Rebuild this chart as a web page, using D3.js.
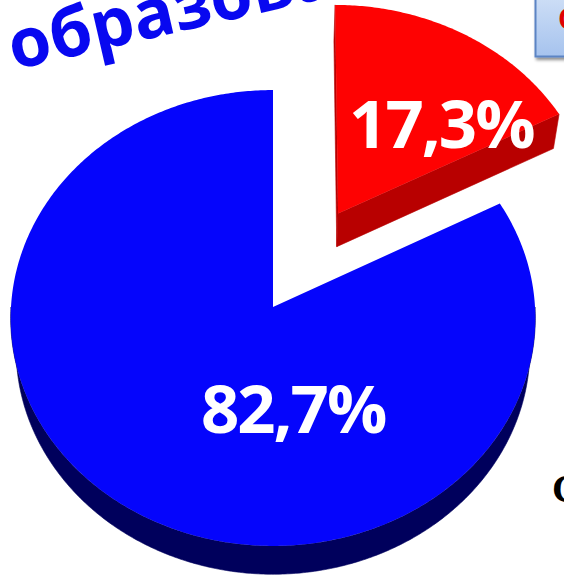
<!DOCTYPE html>
<html>
<head>
<meta charset="utf-8">
<script src="https://cdn.jsdelivr.net/npm/d3@7"></script>
<style>
  html, body { margin: 0; padding: 0; background: #fff; overflow: hidden; }
  svg { display: block; }
</style>
</head>
<body>
<svg id="chart" width="564" height="575"></svg>
<script>
// pie order: from 12 o'clock, clockwise
const shares = [17.3, 82.7]
const shareLabels = ['17,3%', '82,7%']
const explode = [0.49, 0] // pulled out, in radii
const titleText = 'образование'
const boxText = 'С'
const cornerText = 'С'

// look of the slices (kept apart from the data)
const topColors = ['#fe0202', '#0505fc']
const sideColors = ['#b80000', '#00005c']
const labelSpots = [[44.7, 0.59], [170.3, 0.445]] // [deg, radius] inside each slice

const width = 564
const height = 575
const center = {x: 273, y: 307}
const thick = 0.25 // slab thickness, in radii

// simple perspective camera looking down on the pie
const cam = {D: 10.3, s: 0.868, c: 0.497}
cam.f = 262 * cam.D

function project (X, Z, H) {
  const depth = cam.D + Z * cam.c + H * cam.s
  return [cam.f * X / depth, -cam.f * (Z * cam.s - H * cam.c) / depth]
}

const svg = d3.select('#chart')
const line = d3.line()

const defs = svg.append('defs')
const boxGrad = defs.append('linearGradient')
  .attr('id', 'boxGrad')
  .attr('x1', 0).attr('y1', 0).attr('x2', 0).attr('y2', 1)
boxGrad.append('stop').attr('offset', '0%').attr('stop-color', '#d3e2f7')
boxGrad.append('stop').attr('offset', '100%').attr('stop-color', '#a6c3ee')

const shadow = defs.append('filter').attr('id', 'shadow')
  .attr('x', '-20%').attr('y', '-20%').attr('width', '150%').attr('height', '150%')
shadow.append('feDropShadow')
  .attr('dx', 1.5).attr('dy', 2.5).attr('stdDeviation', 1.5)
  .attr('flood-color', '#000').attr('flood-opacity', 0.45)

const pie = d3.pie().sort(null).value(d => d)
const arcs = pie(shares)

const g = svg.append('g')
  .attr('transform', `translate(${center.x}, ${center.y})`)

function arcPoints (a0, a1, off, H) {
  const n = Math.max(2, Math.ceil((a1 - a0) / 0.01))
  const pts = []
  for (let i = 0; i <= n; i++) {
    const a = a0 + (a1 - a0) * i / n
    pts.push(project(off[0] + Math.sin(a), off[1] + Math.cos(a), H))
  }
  return pts
}

function radialFace (a, off) {
  return [
    project(off[0], off[1], 0),
    project(off[0] + Math.sin(a), off[1] + Math.cos(a), 0),
    project(off[0] + Math.sin(a), off[1] + Math.cos(a), thick),
    project(off[0], off[1], thick)
  ]
}

// draw far slices first
const order = arcs.map((d, i) => i)
  .map(i => {
    const mid = (arcs[i].startAngle + arcs[i].endAngle) / 2
    return {i, z: explode[i] * Math.cos(mid)}
  })
  .sort((a, b) => b.z - a.z)
  .map(d => d.i)

const camZ = -cam.D * cam.c

for (const i of order) {
  const d = arcs[i]
  const mid = (d.startAngle + d.endAngle) / 2
  const off = [explode[i] * Math.sin(mid), explode[i] * Math.cos(mid)]
  const slice = g.append('g').attr('class', 'slice')

  // outer wall, front half only
  const w0 = Math.max(d.startAngle, Math.PI / 2)
  const w1 = Math.min(d.endAngle, Math.PI * 1.5)
  if (w1 > w0) {
    const pts = arcPoints(w0, w1, off, 0).concat(arcPoints(w0, w1, off, thick).reverse())
    slice.append('path')
      .attr('d', line(pts) + 'Z')
      .attr('fill', sideColors[i])
      .attr('stroke', sideColors[i])
      .attr('stroke-width', 0.6)
  }

  // cut faces that turn towards the camera
  const toCam = [-off[0], camZ - off[1]]
  const faces = [
    {a: d.startAngle, n: [-Math.cos(d.startAngle), Math.sin(d.startAngle)]},
    {a: d.endAngle, n: [Math.cos(d.endAngle), -Math.sin(d.endAngle)]}
  ]
  for (const face of faces) {
    if (face.n[0] * toCam[0] + face.n[1] * toCam[1] > 1e-6) {
      slice.append('path')
        .attr('d', line(radialFace(face.a, off)) + 'Z')
        .attr('fill', sideColors[i])
        .attr('stroke', sideColors[i])
        .attr('stroke-width', 0.6)
    }
  }

  // top face
  const top = [project(off[0], off[1], 0)].concat(arcPoints(d.startAngle, d.endAngle, off, 0))
  slice.append('path')
    .attr('d', line(top) + 'Z')
    .attr('fill', topColors[i])
}

// value labels
arcs.forEach((d, i) => {
  const mid = (d.startAngle + d.endAngle) / 2
  const off = [explode[i] * Math.sin(mid), explode[i] * Math.cos(mid)]
  const a = labelSpots[i][0] * Math.PI / 180
  const r = labelSpots[i][1]
  const p = project(off[0] + r * Math.sin(a), off[1] + r * Math.cos(a), 0)
  g.append('text')
    .attr('x', p[0])
    .attr('y', p[1])
    .attr('dy', '0.357em')
    .attr('text-anchor', 'middle')
    .attr('font-family', '"Open Sans", sans-serif')
    .attr('font-weight', 700)
    .attr('font-size', 67)
    .attr('letter-spacing', -2)
    .attr('fill', '#fff')
    .text(shareLabels[i])
})

// title word, tilted, running off the top
svg.append('text')
  .attr('transform', 'translate(14, 70) rotate(-13)')
  .attr('font-family', '"Open Sans", sans-serif')
  .attr('font-weight', 700)
  .attr('font-size', 68)
  .attr('fill', '#0808f0')
  .text(titleText)

// legend box cut by the right edge
svg.append('rect')
  .attr('x', 535.5)
  .attr('y', -12)
  .attr('width', 80)
  .attr('height', 68.5)
  .attr('fill', 'url(#boxGrad)')
  .attr('stroke', '#5b84c4')
  .attr('stroke-width', 2)
  .attr('filter', 'url(#shadow)')

svg.append('text')
  .attr('x', 558)
  .attr('y', 29)
  .attr('font-family', '"Open Sans", sans-serif')
  .attr('font-weight', 700)
  .attr('font-size', 28)
  .attr('fill', '#e00000')
  .text(boxText)

svg.append('text')
  .attr('x', 552)
  .attr('y', 502)
  .attr('font-family', '"Liberation Serif", serif')
  .attr('font-weight', 700)
  .attr('font-size', 40)
  .attr('fill', '#000')
  .text(cornerText)
</script>
</body>
</html>
